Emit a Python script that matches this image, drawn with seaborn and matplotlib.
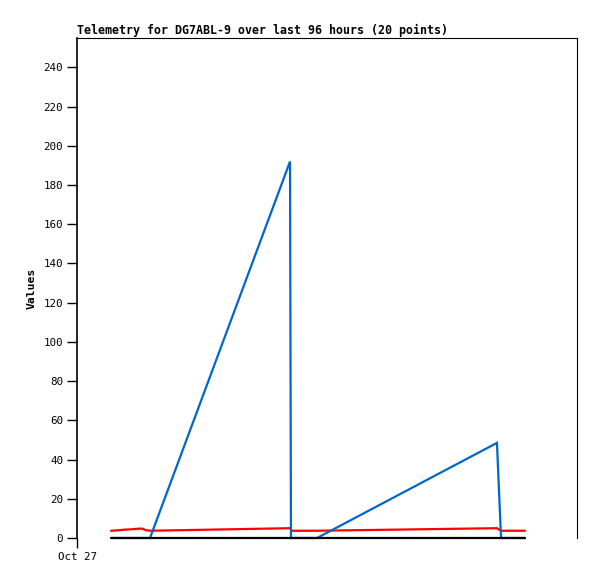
import pandas as pd
import numpy as np
import matplotlib
matplotlib.use('Agg')
import matplotlib.pyplot as plt
import matplotlib.dates as mdates
import seaborn as sns

# telemetry samples (20 points over the 96 hour window)
times = ['2024-10-27 06:32', '2024-10-27 07:52', '2024-10-27 09:13', '2024-10-27 10:22',
         '2024-10-27 11:31', '2024-10-27 12:29', '2024-10-27 13:15', '2024-10-27 14:01',
         '2024-10-28 16:54', '2024-10-28 17:05', '2024-10-28 17:17', '2024-10-28 19:35',
         '2024-10-28 22:05', '2024-10-30 08:38', '2024-10-30 09:25', '2024-10-30 10:34',
         '2024-10-30 11:43', '2024-10-30 12:52', '2024-10-30 13:27', '2024-10-30 14:01']
ch_red = [3.7, 3.9, 4.3, 4.4, 4.7, 4.8, 4.0, 3.7, 5.0, 4.2,
          3.7, 3.7, 3.7, 5.0, 3.7, 3.7, 3.7, 3.7, 3.7, 3.7]
ch_blue = [0, 0, 0, 0, 0, 0, 0, 0, 192, 0,
           0, 0, 0, 48.5, 0, 0, 0, 0, 0, 0]
ch_black = [0] * 20

yticks = list(range(0, 241, 20))

df = pd.DataFrame({'time': pd.to_datetime(times), 'A1': ch_red, 'A2': ch_blue, 'A3': ch_black})
df = df.melt(id_vars='time', var_name='channel', value_name='value')

sns.set_style('white')
plt.rcParams['font.family'] = ['DejaVu Sans Mono']
plt.rcParams['text.color'] = 'black'
plt.rcParams['axes.labelcolor'] = 'black'
plt.rcParams['xtick.color'] = 'black'
plt.rcParams['ytick.color'] = 'black'

fig = plt.figure(figsize=(5.97, 5.79), dpi=100)
ax = fig.add_axes([77/597, 1 - 538/579, 500/597, 500/579])

sns.lineplot(data=df, x='time', y='value', hue='channel', hue_order=['A1', 'A2', 'A3'],
             palette={'A1': '#ff0000', 'A2': '#0066cc', 'A3': '#000000'},
             estimator=None, linewidth=1.6, legend=False, ax=ax)
for ln in ax.lines:
    ln.set_clip_on(False)
    ln.set_solid_joinstyle('miter')

start = pd.Timestamp('2024-10-27 00:00')
ax.set_xlim(start, start + pd.Timedelta(hours=96))
ax.set_ylim(0, 255)
ax.set_yticks(yticks)
ax.set_xticks([start])
ax.xaxis.set_major_formatter(mdates.DateFormatter('%b %d'))

ax.tick_params(axis='both', direction='out', length=7, width=1, color='black',
               labelsize=7.8, pad=3, left=True, bottom=True)
ax.tick_params(axis='x', pad=3)
ax.spines['bottom'].set_visible(False)
for s in ['left', 'top', 'right']:
    ax.spines[s].set_color('black')
    ax.spines[s].set_linewidth(0.8)
ax.spines['left'].set_linewidth(1.2)

ax.set_xlabel('')
ax.set_ylabel('Values', fontsize=8.2, fontweight='bold', labelpad=5)
ax.set_title('Telemetry for DG7ABL-9 over last 96 hours (20 points)', loc='left',
             fontsize=8.4, fontweight='bold', pad=3)

fig.savefig('out.png', dpi=100)
